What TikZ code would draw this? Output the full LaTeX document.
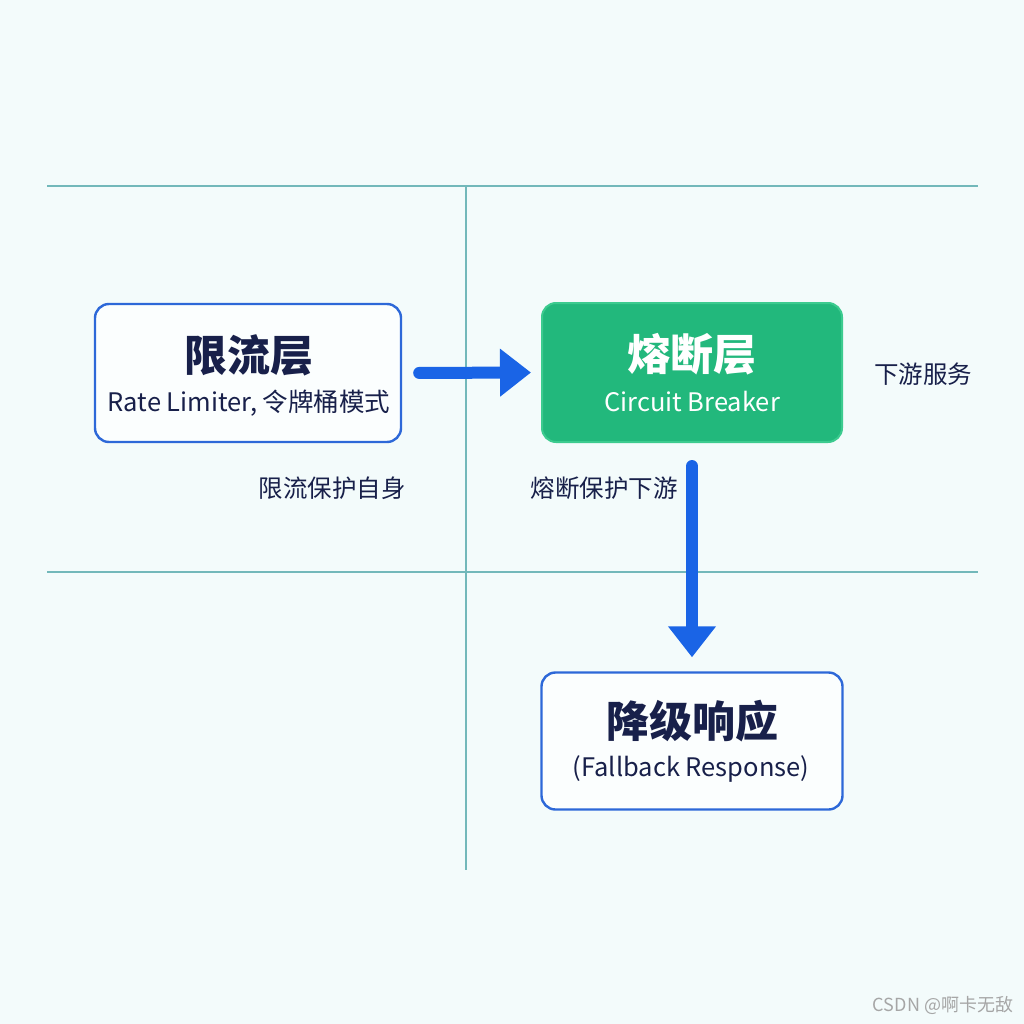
\documentclass[tikz,border=0pt]{standalone}
\usepackage{fontspec}
\setmainfont{Noto Sans CJK SC}
\usetikzlibrary{arrows.meta}
\definecolor{bgc}{HTML}{F3FBFB}
\definecolor{gridc}{HTML}{72B8BA}
\definecolor{boxblue}{HTML}{2D68D8}
\definecolor{arrowblue}{HTML}{1A64E6}
\definecolor{greenfill}{HTML}{22B87C}
\definecolor{greenedge}{HTML}{3CCB8F}
\definecolor{navy}{HTML}{18204A}
\tikzset{
  gridline/.style={draw=gridc, line width=1.3pt},
  whitebox/.style={draw=boxblue, line width=2.4pt, fill=white!70!bgc, rounded corners=14pt,
    minimum width=306pt, minimum height=138pt, inner sep=0pt},
  greenbox/.style={draw=greenedge, line width=2pt, fill=greenfill, rounded corners=14pt,
    minimum width=300pt, minimum height=139pt, inner sep=0pt},
  bigtxt/.style={font=\fontsize{43}{46}\selectfont\bfseries, inner sep=0pt},
  subtxt/.style={font=\fontsize{25.5}{28}\selectfont, inner sep=0pt},
  lbl/.style={font=\fontsize{24.5}{27}\selectfont, text=navy, inner sep=0pt},
  bigarrow/.style={draw=arrowblue, line width=12pt, line cap=round,
    -{Triangle[length=31pt,width=46pt]}}
}
\begin{document}
\begin{tikzpicture}[x=1pt,y=-1pt]
\useasboundingbox (0,0) rectangle (1024,1024);
\fill[bgc] (0,0) rectangle (1024,1024);
% grid
\coordinate (g1a) at (47,186); \coordinate (g1b) at (978,186);
\coordinate (g2a) at (47,572); \coordinate (g2b) at (978,572);
\coordinate (gva) at (466,186); \coordinate (gvb) at (466,870);
\draw[gridline] (g1a) -- (g1b);
\draw[gridline] (g2a) -- (g2b);
\draw[gridline] (gva) -- (gvb);
% boxes
\node[whitebox] (rl) at (248,373) {};
\node[bigtxt, text=navy] (rlt) at (249,355) {限流层};
\node[subtxt, text=navy] (rls) at (249,403) {Rate Limiter, 令牌桶模式};
\node[greenbox] (cb) at (692,372.5) {};
\node[bigtxt, text=white] (cbt) at (692,354) {熔断层};
\node[subtxt, text=white] (cbs) at (692,402) {Circuit Breaker};
\node[whitebox, minimum width=301pt, minimum height=137pt] (fb) at (692,741) {};
\node[bigtxt, text=navy] (fbt) at (692,721) {降级响应};
\node[subtxt, text=navy] (fbs) at (691,769) {(Fallback Response)};
% arrows
\draw[bigarrow, shorten <=17pt, shorten >=10pt] (rl.east) -- (cb.west);
\draw[bigarrow, shorten <=23pt, shorten >=14pt] (cb.south) -- (fb.north);
% labels
\node[lbl] (l1) at (332,488) {限流保护自身};
\node[lbl] (l2) at (604,488) {熔断保护下游};
\node[lbl] (l3) at (923,374) {下游服务};
\node[font=\fontsize{18}{20}\selectfont, text=black!35, inner sep=0pt] (wm) at (943,1005) {CSDN @啊卡无敌};
\end{tikzpicture}
\end{document}
